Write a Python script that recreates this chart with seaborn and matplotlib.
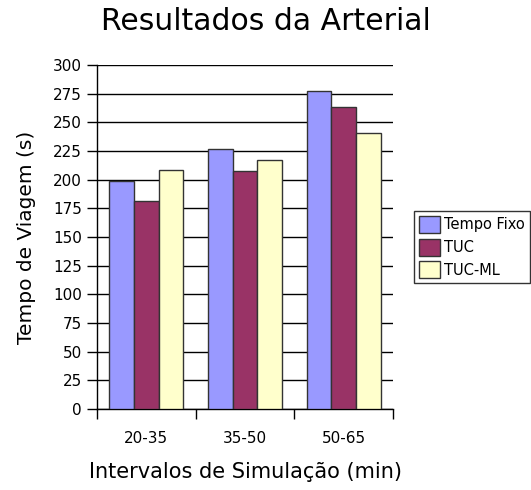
import matplotlib
matplotlib.use("Agg")
import matplotlib.pyplot as plt
import seaborn as sns
import pandas as pd

# data
intervalos = ["20-35", "35-50", "50-65"]
tempo_fixo = [199, 227, 277.5]
tuc = [181, 207.5, 263]
tuc_ml = [208.5, 217.5, 241]
series = ["Tempo Fixo", "TUC", "TUC-ML"]
cores = ["#9999FF", "#993366", "#FFFFCC"]

df = pd.DataFrame({
    "intervalo": intervalos * 3,
    "tempo": tempo_fixo + tuc + tuc_ml,
    "serie": [s for s in series for _ in intervalos],
})

sns.set_style("white")
plt.rcParams['font.family'] = ['DejaVu Sans']
plt.rcParams['text.color'] = 'black'
plt.rcParams['axes.labelcolor'] = 'black'
plt.rcParams['xtick.color'] = 'black'
plt.rcParams['ytick.color'] = 'black'

fig = plt.figure(figsize=(5.31, 4.90), dpi=100)
ax = fig.add_axes([97 / 531, 1 - 409 / 490, 296 / 531, 344 / 490])

sns.barplot(data=df, x="intervalo", y="tempo", hue="serie", order=intervalos,
            hue_order=series, palette=cores, width=0.75, edgecolor="#333333",
            linewidth=1.0, saturation=1, ax=ax, legend=False, zorder=3)

ax.set_ylim(0, 300)
ax.set_yticks(range(0, 301, 25))
ax.set_xlim(-0.5, 2.5)
ax.yaxis.grid(True, color="black", linewidth=1, zorder=0)
ax.set_axisbelow(True)
for s in ["top", "right"]:
    ax.spines[s].set_visible(False)
for s in ["left", "bottom"]:
    ax.spines[s].set_color("black")
    ax.spines[s].set_linewidth(1)

# ticks at group boundaries, labels in the middle
ax.set_xticks([-0.5, 0.5, 1.5, 2.5])
ax.set_xticklabels([])
ax.set_xticks([0, 1, 2], minor=True)
ax.set_xticklabels(intervalos, minor=True)
ax.tick_params(axis="x", which="major", direction="out", length=7, width=1, color="black", bottom=True)
ax.tick_params(axis="x", which="minor", length=0, pad=16, labelsize=11)
ax.tick_params(axis="y", direction="out", length=7, width=1, color="black", left=True, labelsize=11, pad=4)

ax.set_xlabel("Intervalos de Simulação (min)", fontsize=15, labelpad=11)
ax.set_ylabel("Tempo de Viagem (s)", fontsize=14.5, labelpad=12)
fig.suptitle("Resultados da Arterial", fontsize=21.5, y=0.985)

handles = [plt.Rectangle((0, 0), 1, 1, facecolor=c, edgecolor="#333333") for c in cores]
fig.legend(handles, series, loc="upper left", bbox_to_anchor=(414 / 531, 1 - 211 / 490),
           frameon=True, fancybox=False, edgecolor="black", fontsize=10.5,
           handlelength=1.4, handleheight=1.4, handletextpad=0.3, borderpad=0.35,
           labelspacing=0.4, borderaxespad=0)

fig.savefig("out.png", dpi=100)
